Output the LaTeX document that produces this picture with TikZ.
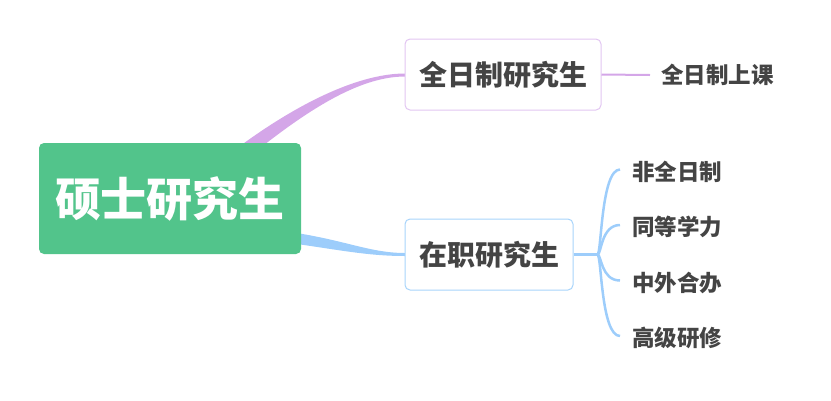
\documentclass[tikz,border=0pt]{standalone}
\usepackage{fontspec}
\setmainfont{Noto Sans CJK SC}
\usepackage{tikz}
\usetikzlibrary{calc}
\definecolor{root_green}{HTML}{52C48B}
\definecolor{text_grey}{HTML}{444444}
\definecolor{purple_line}{HTML}{D4A6E8}
\definecolor{purple_border}{HTML}{E2C6F2}
\definecolor{blue_line}{HTML}{9DCDFB}
\definecolor{blue_border}{HTML}{A8D4FB}

\tikzset{
    rootbox/.style={fill=root_green,rounded corners=5,text=white,
        font=\fontsize{46}{46}\selectfont\bfseries,
        minimum width=262,minimum height=111,inner sep=0},
    topicbox/.style={draw,fill=white,rounded corners=5,line width=1,
        text=text_grey,font=\fontsize{28}{28}\selectfont\bfseries,
        minimum height=71,inner sep=0},
    leaf/.style={anchor=west,inner sep=0,text=text_grey,
        font=\fontsize{22.5}{22.5}\selectfont\bfseries}
}

\begin{document}
\begin{tikzpicture}[x=1pt,y=-1pt]
    \useasboundingbox (0,0) rectangle (831,400);

    % tapered links from the root
    \fill[purple_line] (232,152) .. controls (290,108) and (355,73.5) .. (405,73.5)
        -- (405,76.5) .. controls (358,76.5) and (305,112) .. (250,156) -- cycle;
    \fill[blue_line] (290,232) .. controls (345,240) and (370,253) .. (405,253)
        -- (405,256) .. controls (368,256) and (340,250) .. (290,243) -- cycle;

    \node[rootbox] (root) at (170,198.5) {硕士研究生};

    \node[topicbox,draw=purple_border,minimum width=196] (fulltime) at (503,74.5) {全日制研究生};
    \node[topicbox,draw=blue_border,minimum width=168] (parttime) at (489,254.5) {在职研究生};

    \node[leaf] (fullclass) at (661,75) {全日制上课};
    \draw[purple_line,line width=2] (fulltime.east) -- ($(fullclass.west)+(-11,0)$);

    \node[leaf] (nonfull) at (632,171.5) {非全日制};
    \node[leaf] (equal) at (632,227) {同等学力};
    \node[leaf] (joint) at (632,282.5) {中外合办};
    \node[leaf] (advanced) at (632,338) {高级研修};

    \coordinate (fork) at ($(parttime.east)+(24,0)$);
    \draw[blue_line,line width=3] (parttime.east) -- (fork);
    \foreach \leafname in {nonfull,equal,joint,advanced}
        \draw[blue_line,line width=2.5] (fork)
            .. controls +(4,0) and +(-19,0) .. ($(\leafname.west)+(-12,-2)$);

\end{tikzpicture}
\end{document}
